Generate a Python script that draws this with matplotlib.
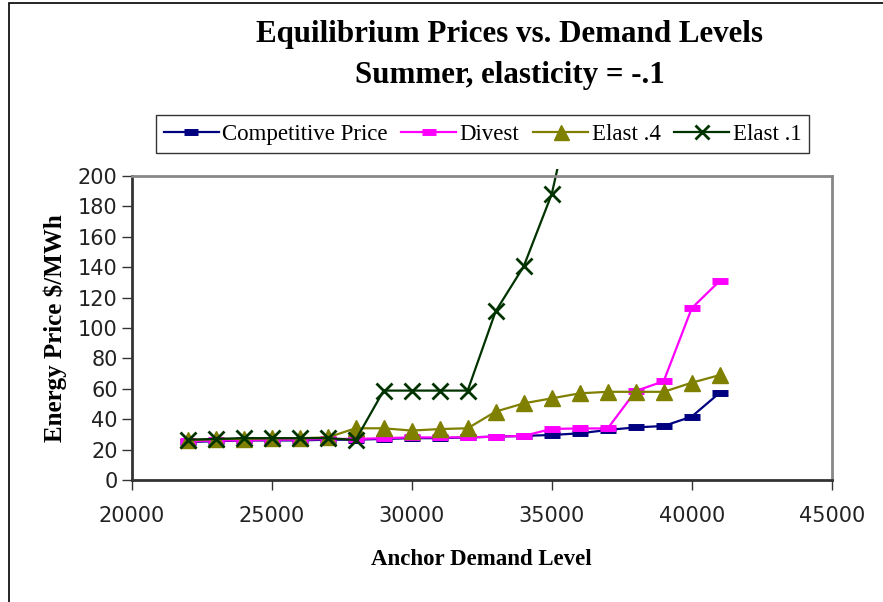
import matplotlib.pyplot as plt
from matplotlib.patches import Rectangle

demand = [22000, 23000, 24000, 25000, 26000, 27000, 28000, 29000, 30000, 31000,
          32000, 33000, 34000, 35000, 36000, 37000, 38000, 39000, 40000, 41000]
competitive = [25, 25.5, 26, 26, 26, 26.5, 26.5, 27, 27.5, 27.5,
               28, 28.5, 29, 29.6, 30.7, 32.9, 34.6, 35.5, 41.7, 57.4]
divest = [25.5, 26, 26, 26.5, 26.5, 27, 27, 27.5, 28, 28,
          28, 28.5, 29, 33.6, 33.9, 33.9, 58.5, 65, 113, 131]
elast4 = [26, 27, 27, 27.5, 27.5, 28, 34, 34, 32.5, 33.5,
          34, 45, 50.4, 53.7, 57, 58, 58, 58, 64, 69]
demand_e1 = [22000, 23000, 24000, 25000, 26000, 27000, 28000, 29000, 30000, 31000,
             32000, 33000, 34000, 35000, 36000]
elast1 = [26.5, 27, 27.5, 27.5, 27.5, 27.5, 26.3, 58.8, 58.8, 58.8,
          58.8, 111, 140.5, 188, 270]

fig = plt.figure(figsize=(8.83, 6.02), dpi=100)
ax = fig.add_axes([0.149, 0.2027, 0.793, 0.505])

ax.plot(demand, competitive, color='#000080', lw=1.6, marker='_', ms=11, mew=5,
        label='Competitive Price')
ax.plot(demand, divest, color='#FF00FF', lw=1.6, marker='_', ms=11, mew=5,
        label='Divest')
ax.plot(demand, elast4, color='#808000', lw=1.6, marker='^', ms=12,
        label='Elast .4')
l1, = ax.plot(demand_e1, elast1, color='#003300', lw=1.6, marker='x', ms=11, mew=2,
              label='Elast .1')
# Excel lets the line poke a little above the plot area
clip = Rectangle((0, 0), 1, 1.023, transform=ax.transAxes, visible=False)
ax.add_patch(clip)
l1.set_clip_path(clip)

ax.set_xlim(20000, 45000)
ax.set_ylim(0, 200)
ax.set_xticks(range(20000, 45001, 5000))
ax.set_yticks(range(0, 201, 20))
ax.tick_params(direction='out', length=7, width=1, labelsize=15, labelcolor='#222222',
               colors='#333333')
ax.tick_params(axis='y', pad=3)
ax.tick_params(axis='x', pad=12)
for s in ['left', 'bottom']:
    ax.spines[s].set_linewidth(2)
    ax.spines[s].set_color('#333333')
for s in ['top', 'right']:
    ax.spines[s].set_linewidth(2)
    ax.spines[s].set_color('#888888')

serif = 'Liberation Serif'
ax.set_xlabel('Anchor Demand Level', fontfamily=serif, fontweight='bold', fontsize=16.5,
              labelpad=16)
ax.set_ylabel('Energy Price $/MWh', fontfamily=serif, fontweight='bold', fontsize=18,
              labelpad=7.5)
fig.text(0.577, 0.942, 'Equilibrium Prices vs. Demand Levels', ha='center', va='center',
         fontfamily=serif, fontweight='bold', fontsize=22.3)
fig.text(0.577, 0.875, 'Summer, elasticity = -.1', ha='center', va='center',
         fontfamily=serif, fontweight='bold', fontsize=22.3)

leg = fig.legend(loc='center', bbox_to_anchor=(0.5464, 0.7774), ncol=4,
                 prop={'family': serif, 'size': 16.5}, frameon=True, fancybox=False,
                 edgecolor='black', handlelength=2.4, handletextpad=0.15,
                 columnspacing=0.6, borderpad=0.35, markerscale=0.9)
leg.get_frame().set_linewidth(1)

fig.patches.append(Rectangle((0.0102, -0.05), 1.2, 1.045, transform=fig.transFigure,
                             fill=False, edgecolor='black', lw=1.2))

fig.savefig('out.png', dpi=100)
